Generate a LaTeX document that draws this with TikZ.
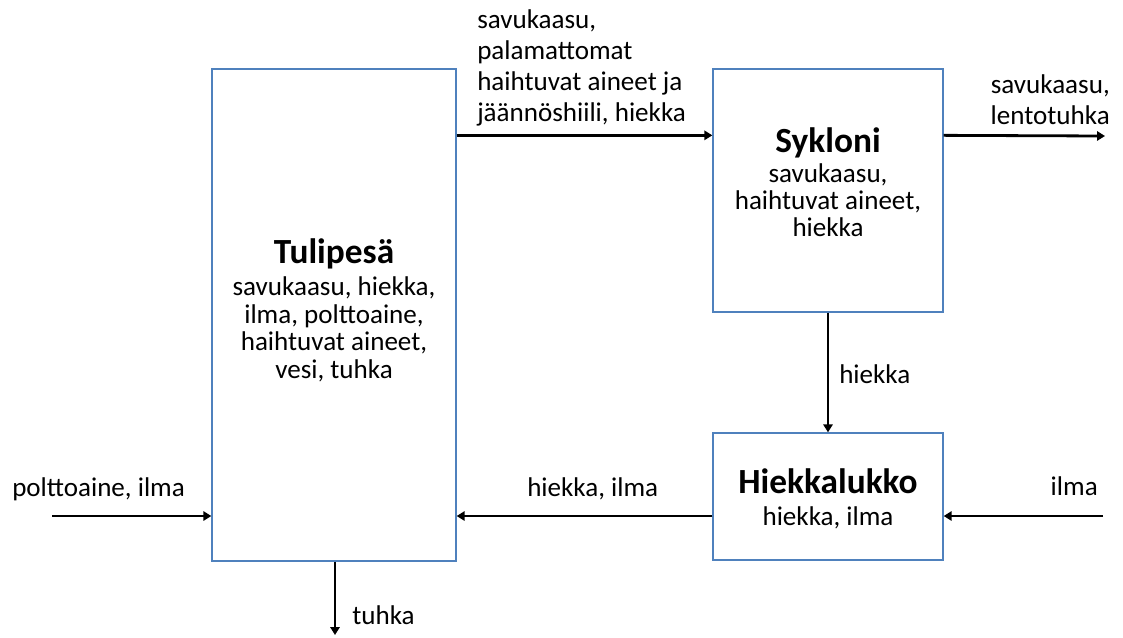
\documentclass[tikz,border=0pt]{standalone}
\usepackage{fontspec}
\setmainfont{Carlito}
\usetikzlibrary{arrows.meta,calc}
\definecolor{boxblue}{RGB}{79,129,189}
\tikzset{
  blk/.style={draw=boxblue,line width=1pt,fill=white,inner sep=0pt},
  arr/.style={line width=2.1pt,-{Triangle[length=6pt,width=7pt]}},
  ttl/.style={font=\fontsize{26.5}{30}\selectfont\bfseries,inner sep=0pt,anchor=base},
  bodytxt/.style={font=\fontsize{20.3}{20.6}\selectfont,inner sep=0pt,align=center,anchor=base},
  lbl/.style={font=\fontsize{20.3}{23.25}\selectfont,inner sep=0pt}
}
\begin{document}
\begin{tikzpicture}[x=0.75pt,y=-0.75pt]
\useasboundingbox[fill=white] (0,0) rectangle (1123,637);
% boxes
\node[blk,minimum width=244*0.75pt,minimum height=492*0.75pt] (tul) at (334,315) {};
\node[blk,minimum width=230*0.75pt,minimum height=243*0.75pt] (syk) at (828,190.5) {};
\node[blk,minimum width=230*0.75pt,minimum height=127*0.75pt] (hie) at (828,496.5) {};
% box texts
\node[ttl] (tulT) at (334,263) {Tulipesä};
\node[bodytxt] (tulB) at (334,378) {savukaasu, hiekka,\\ilma, polttoaine,\\haihtuvat aineet,\\vesi, tuhka};
\node[ttl] (sykT) at (828,152) {Sykloni};
\node[bodytxt,font=\fontsize{20.3}{20}\selectfont] (sykB) at (828,236) {savukaasu,\\haihtuvat aineet,\\hiekka};
\node[ttl] (hieT) at (828,493) {Hiekkalukko};
\node[bodytxt] (hieB) at (828,525) {hiekka, ilma};
% free ends
\coordinate (outR) at (1105,136);
\coordinate (inR) at (1103,516);
\coordinate (inL) at (52,516);
\coordinate (outD) at (335,635);
% connectors
\draw[arr] ([yshift=-67*0.75pt]tul.north east) -- ([yshift=-67*0.75pt]syk.north west);
\draw[arr] ([yshift=-67*0.75pt]syk.north east) -- (outR);
\draw[arr] (syk.south) -- (hie.north);
\draw[arr] (inR) -- (inR -| hie.east);
\draw[arr] (hie.west |- inR) -- (tul.east |- inR);
\draw[arr] (inL) -- (inL -| tul.west);
\draw[arr] (tul.south -| outD) -- (outD);
% labels
\node[lbl,align=left,anchor=base west] (l1) at (477,121) {savukaasu,\\palamattomat\\haihtuvat aineet ja\\jäännöshiili, hiekka};
\node[lbl,align=right,anchor=base east] (l2) at (1110,124) {savukaasu,\\lentotuhka};
\node[lbl,anchor=base west] (l3) at (839,383) {hiekka};
\node[lbl,anchor=base east] (l4) at (1098,495) {ilma};
\node[lbl,anchor=base west] (l5) at (527,496) {hiekka, ilma};
\node[lbl,anchor=base west] (l6) at (12,496) {polttoaine, ilma};
\node[lbl,anchor=base west] (l7) at (352,624) {tuhka};
\end{tikzpicture}
\end{document}
